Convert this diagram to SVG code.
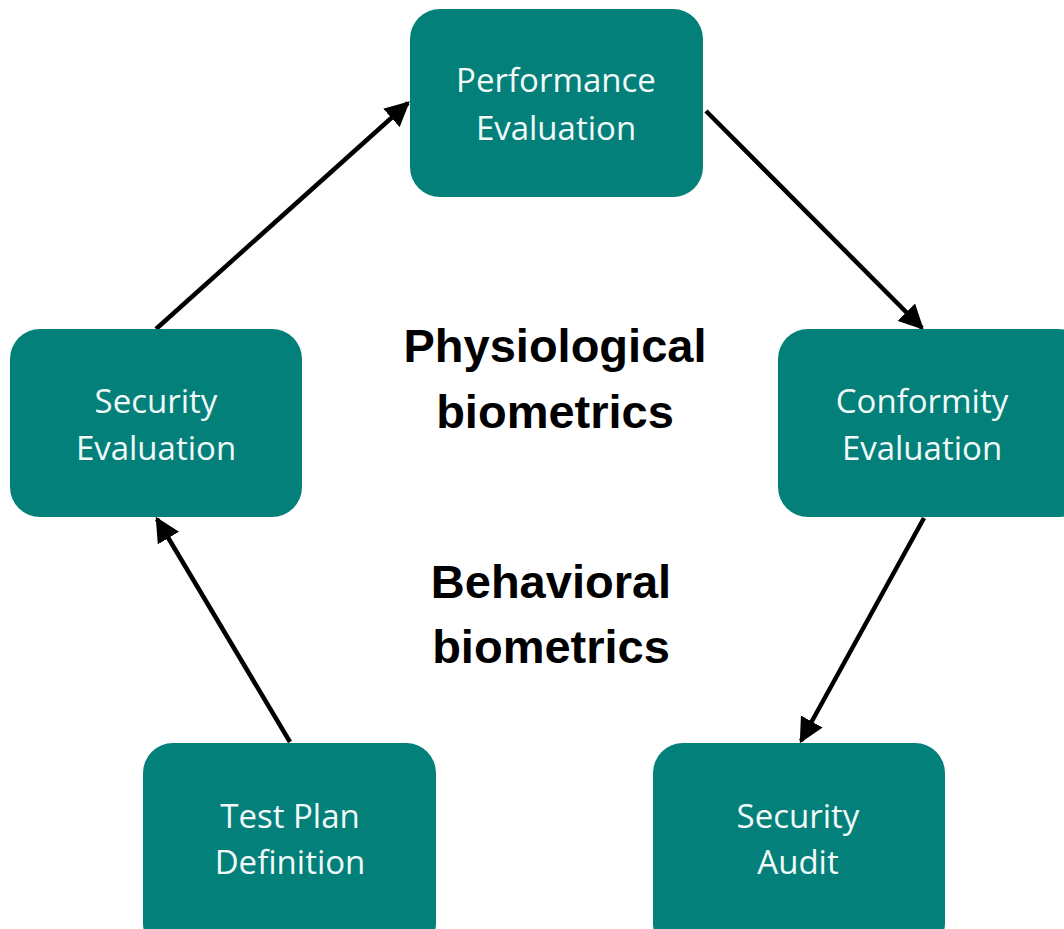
<svg xmlns="http://www.w3.org/2000/svg" width="1064" height="929" viewBox="0 0 1064 929">
<defs>
<style>
.box{fill:#04807A;}
.lbl{font-family:"Open Sans","Liberation Sans",sans-serif;font-size:33px;fill:#F2FAF9;text-anchor:middle;}
.ctr{font-family:"Liberation Sans",Arial,sans-serif;font-weight:bold;font-size:47px;fill:#000;text-anchor:middle;}
.conn{stroke:#000;stroke-width:4.5;fill:none;marker-end:url(#ah);}
</style>
<marker id="ah" viewBox="0 0 10 10" refX="9" refY="5" markerWidth="5.5" markerHeight="5.5" orient="auto" markerUnits="strokeWidth">
<path d="M0,0 L10,5 L0,10 z" fill="#000"/>
</marker>
</defs>
<rect width="1064" height="929" fill="#fff"/>
<g id="connectors">
<line class="conn" x1="156" y1="329" x2="408" y2="103"/>
<line class="conn" x1="706" y1="111" x2="922" y2="328"/>
<line class="conn" x1="924" y1="518" x2="801" y2="741"/>
<line class="conn" x1="290" y1="742" x2="157" y2="519"/>
</g>
<g id="performance">
<rect class="box" x="410" y="9" width="293" height="188" rx="30"/>
<text class="lbl" x="556" y="92">Performance</text>
<text class="lbl" x="556" y="140">Evaluation</text>
</g>
<g id="security-eval">
<rect class="box" x="10" y="329" width="292" height="188" rx="30"/>
<text class="lbl" x="156" y="413">Security</text>
<text class="lbl" x="156" y="460">Evaluation</text>
</g>
<g id="conformity">
<rect class="box" x="778" y="329" width="310" height="188" rx="30"/>
<text class="lbl" x="922" y="413">Conformity</text>
<text class="lbl" x="922" y="460">Evaluation</text>
</g>
<g id="test-plan">
<rect class="box" x="143" y="743" width="293" height="210" rx="30"/>
<text class="lbl" x="290" y="828">Test Plan</text>
<text class="lbl" x="290" y="874">Definition</text>
</g>
<g id="security-audit">
<rect class="box" x="653" y="743" width="292" height="210" rx="30"/>
<text class="lbl" x="798" y="828">Security</text>
<text class="lbl" x="798" y="874">Audit</text>
</g>
<g id="center-labels">
<text class="ctr" x="555" y="362">Physiological</text>
<text class="ctr" x="555" y="428">biometrics</text>
<text class="ctr" x="551" y="598">Behavioral</text>
<text class="ctr" x="551" y="663">biometrics</text>
</g>
</svg>
